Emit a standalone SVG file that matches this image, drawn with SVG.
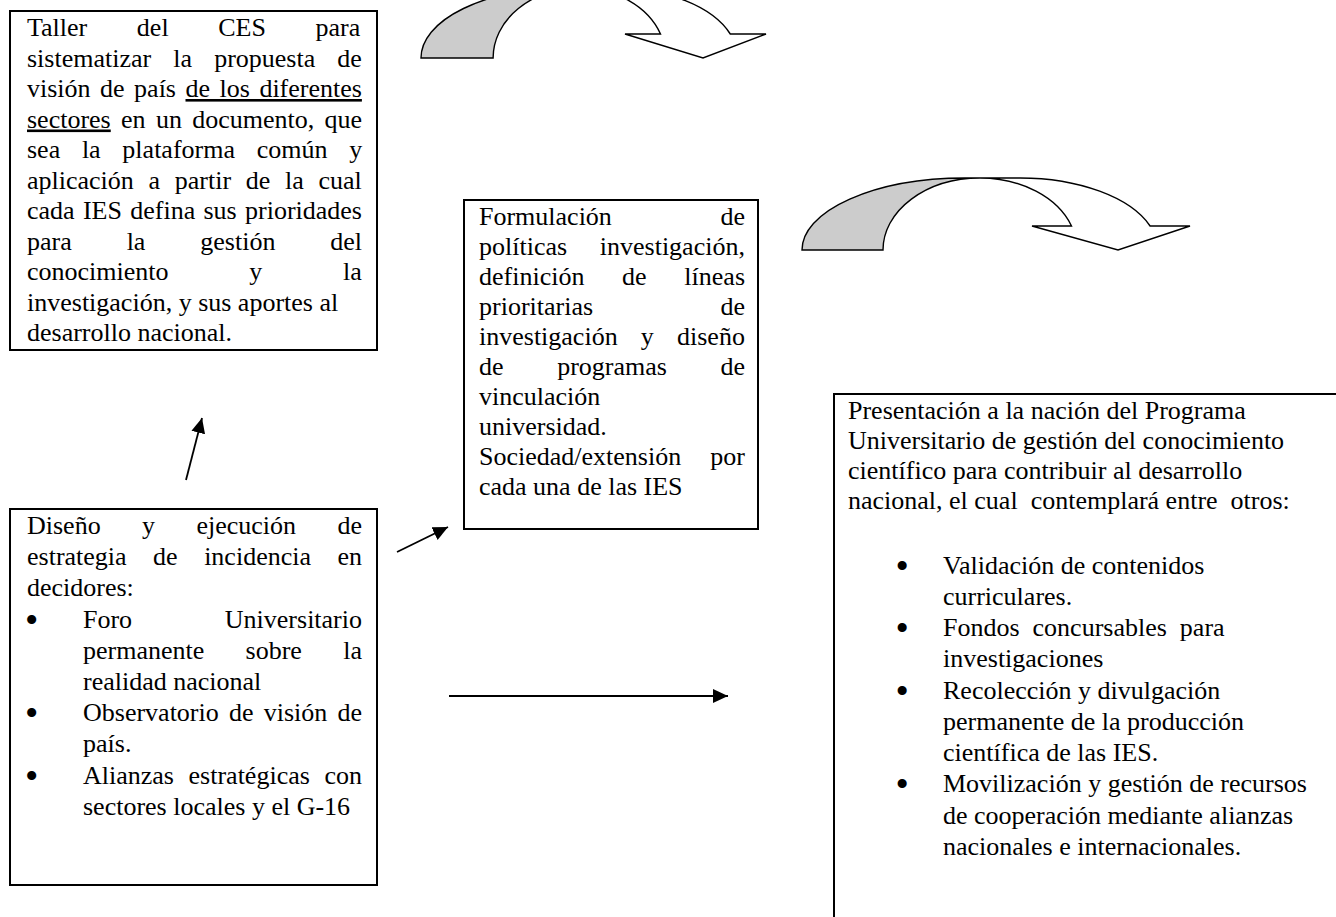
<svg xmlns="http://www.w3.org/2000/svg" width="1336" height="917" viewBox="0 0 1336 917">
<style>
.t{font-family:"Liberation Serif","Times New Roman",serif;font-size:26px;fill:#000;}
.b{font-family:"Liberation Serif","Times New Roman",serif;font-size:38px;fill:#000;}
.box{fill:#fff;stroke:#000;stroke-width:2;}
.conn{stroke:#000;stroke-width:1.8;fill:none;marker-end:url(#ah);}
.ca{stroke:#000;stroke-width:1.4;stroke-linejoin:miter;}
.grey{fill:#cccccc;}
.white{fill:#ffffff;}
.pre{white-space:pre;}
</style>
<defs>
<marker id="ah" markerUnits="userSpaceOnUse" markerWidth="16" markerHeight="16" viewBox="0 0 16 16" refX="15" refY="8" orient="auto">
<path d="M0,1 L15,8 L0,15 Z" fill="#000"/>
</marker>
</defs>
<rect width="1336" height="917" fill="#fff"/>

<g id="connectors">
  <g id="curved-arrow-1">
    <path class="ca white" d="M579.4,-12 L615,-12 A122.8 70 0 0 1 730.3,34 L766,34 L703,58 L625,34 L660.5,34 A86.3 70 0 0 0 579.4,-12 Z"/>
    <path class="ca grey" d="M421,58 A145.1 70 0 0 1 566.1,-12 L579.4,-12 A86.3 70 0 0 0 493.1,58 Z"/>
  </g>
  <g id="curved-arrow-2">
    <path class="ca white" d="M980,178 L1020,178 A138 72 0 0 1 1150.1,226 L1190,226 L1118,250 L1032,226 L1071.5,226 A97 72 0 0 0 980,178 Z"/>
    <path class="ca grey" d="M802,250 A163 72 0 0 1 965,178 L980,178 A97 72 0 0 0 883,250 Z"/>
  </g>
  <line id="arrow-up" class="conn" x1="186" y1="480" x2="202" y2="418"/>
  <line id="arrow-diag" class="conn" x1="397" y1="552" x2="448" y2="527"/>
  <line id="arrow-right" class="conn" x1="449" y1="696" x2="728" y2="696"/>
</g>

<g id="node-taller">
  <rect class="box" x="10" y="11" width="367" height="339"/>
  <text class="t" x="27" y="36" word-spacing="43.1">Taller del CES para</text>
  <text class="t" x="27" y="66.5" word-spacing="15.6">sistematizar la propuesta de</text>
  <text class="t" x="27" y="97" word-spacing="3">visión de país <tspan text-decoration="underline">de los diferentes</tspan></text>
  <text class="t" x="27" y="127.5" word-spacing="3.8"><tspan text-decoration="underline">sectores</tspan> en un documento, que</text>
  <text class="t" x="27" y="158" word-spacing="15.2">sea la plataforma común y</text>
  <text class="t" x="27" y="188.5" word-spacing="8.2">aplicación a partir de la cual</text>
  <text class="t" x="27" y="219" word-spacing="1.8">cada IES defina sus prioridades</text>
  <text class="t" x="27" y="249.5" word-spacing="48.4">para la gestión del</text>
  <text class="t" x="27" y="280" word-spacing="74.3">conocimiento y la</text>
  <text class="t" x="27" y="310.5">investigación, y sus aportes al</text>
  <text class="t" x="27" y="341">desarrollo nacional.</text>
</g>

<g id="node-formulacion">
  <rect class="box" x="464" y="200" width="294" height="329"/>
  <text class="t" x="479" y="225" word-spacing="102.1">Formulación de</text>
  <text class="t" x="479" y="255" word-spacing="26.2">políticas investigación,</text>
  <text class="t" x="479" y="285" word-spacing="31.2">definición de líneas</text>
  <text class="t" x="479" y="315" word-spacing="120.9">prioritarias de</text>
  <text class="t" x="479" y="345" word-spacing="16.7">investigación y diseño</text>
  <text class="t" x="479" y="375" word-spacing="47.1">de programas de</text>
  <text class="t" x="479" y="405">vinculación</text>
  <text class="t" x="479" y="435">universidad.</text>
  <text class="t" x="479" y="465" word-spacing="22.6">Sociedad/extensión por</text>
  <text class="t" x="479" y="495">cada una de las IES</text>
</g>

<g id="node-diseno">
  <rect class="box" x="10" y="509" width="367" height="376"/>
  <text class="t" x="27" y="534" word-spacing="34.9">Diseño y ejecución de</text>
  <text class="t" x="27" y="565" word-spacing="20">estrategia de incidencia en</text>
  <text class="t" x="27" y="596">decidores:</text>
  <text class="b" x="25" y="633">•</text>
  <text class="t" x="83" y="628" word-spacing="86.2">Foro Universitario</text>
  <text class="t" x="83" y="659" word-spacing="34.8">permanente sobre la</text>
  <text class="t" x="83" y="690">realidad nacional</text>
  <text class="b" x="25" y="726">•</text>
  <text class="t" x="83" y="721" word-spacing="3.7">Observatorio de visión de</text>
  <text class="t" x="83" y="752">país.</text>
  <text class="b" x="25" y="789">•</text>
  <text class="t" x="83" y="784" word-spacing="8.1">Alianzas estratégicas con</text>
  <text class="t" x="83" y="815">sectores locales y el G-16</text>
</g>

<g id="node-presentacion">
  <rect class="box" x="834" y="394" width="510" height="530"/>
  <text class="t" x="848" y="419">Presentación a la nación del Programa</text>
  <text class="t" x="848" y="449">Universitario de gestión del conocimiento</text>
  <text class="t" x="848" y="479">científico para contribuir al desarrollo</text>
  <text class="t pre" x="848" y="509">nacional, el cual  contemplará entre  otros:</text>
  <text class="b" x="895.5" y="579">•</text>
  <text class="t" x="943" y="574">Validación de contenidos</text>
  <text class="t" x="943" y="605">curriculares.</text>
  <text class="b" x="895.5" y="641">•</text>
  <text class="t pre" x="943" y="636">Fondos  concursables  para</text>
  <text class="t" x="943" y="667">investigaciones</text>
  <text class="b" x="895.5" y="704">•</text>
  <text class="t" x="943" y="699">Recolección y divulgación</text>
  <text class="t" x="943" y="730">permanente de la producción</text>
  <text class="t" x="943" y="761">científica de las IES.</text>
  <text class="b" x="895.5" y="797">•</text>
  <text class="t" x="943" y="792">Movilización y gestión de recursos</text>
  <text class="t" x="943" y="824">de cooperación mediante alianzas</text>
  <text class="t" x="943" y="855">nacionales e internacionales.</text>
</g>
</svg>
